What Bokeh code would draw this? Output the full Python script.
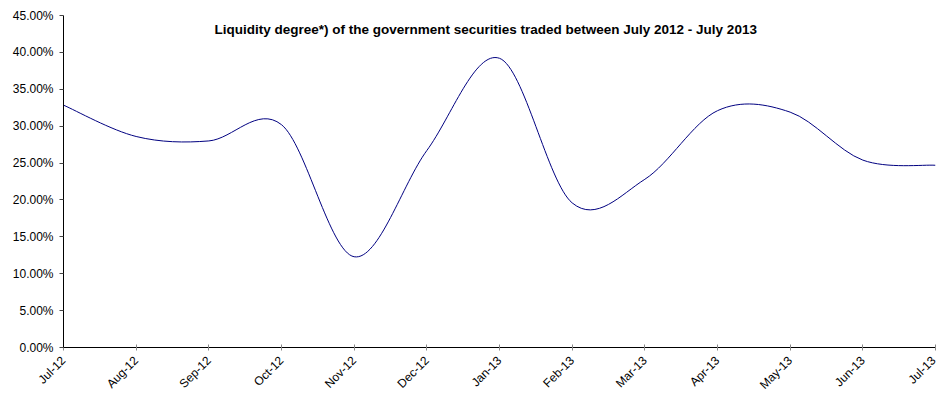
import math
from bokeh.plotting import figure
from bokeh.models import Range1d, FixedTicker, NumeralTickFormatter, Label, ColumnDataSource
from bokeh.embed import file_html
from bokeh.resources import INLINE

months = ["Jul-12", "Aug-12", "Sep-12", "Oct-12", "Nov-12", "Dec-12", "Jan-13",
          "Feb-13", "Mar-13", "Apr-13", "May-13", "Jun-13", "Jul-13"]
liquidity = [0.3285, 0.286, 0.280, 0.302, 0.123, 0.267, 0.392,
             0.196, 0.228, 0.321, 0.319, 0.254, 0.247]
y_ticks = [0, 0.05, 0.10, 0.15, 0.20, 0.25, 0.30, 0.35, 0.40, 0.45]
title_text = "Liquidity degree*) of the government securities traded between July 2012 - July 2013"

FONT = "Liberation Sans"

p = figure(frame_width=872, frame_height=332, output_backend="svg", toolbar_location=None,
           x_range=Range1d(0, len(months) - 1), y_range=Range1d(0, 0.45),
           min_border_left=63, min_border_right=3, min_border_top=15, min_border_bottom=46)
p.outline_line_color = None
p.xgrid.visible = False
p.ygrid.visible = False
p.background_fill_color = "white"
p.border_fill_color = "white"

# smoothed line (Catmull-Rom style Bezier segments through data points)
xs = list(range(len(months)))
n = len(xs)
x0, y0, x1, y1, cx0, cy0, cx1, cy1 = [], [], [], [], [], [], [], []
for i in range(n - 1):
    pm = i - 1 if i > 0 else 0
    pp = i + 2 if i + 2 < n else n - 1
    x0.append(xs[i]); y0.append(liquidity[i])
    x1.append(xs[i + 1]); y1.append(liquidity[i + 1])
    cx0.append(xs[i] + (xs[i + 1] - xs[pm]) / 6.0)
    cy0.append(liquidity[i] + (liquidity[i + 1] - liquidity[pm]) / 6.0)
    cx1.append(xs[i + 1] - (xs[pp] - xs[i]) / 6.0)
    cy1.append(liquidity[i + 1] - (liquidity[pp] - liquidity[i]) / 6.0)
src = ColumnDataSource(dict(x0=x0, y0=y0, x1=x1, y1=y1, cx0=cx0, cy0=cy0, cx1=cx1, cy1=cy1))
p.bezier(x0="x0", y0="y0", x1="x1", y1="y1", cx0="cx0", cy0="cy0", cx1="cx1", cy1="cy1",
         source=src, line_color="#000080", line_width=1.0)

# x axis
xa = p.xaxis[0]
xa.ticker = FixedTicker(ticks=xs)
xa.major_label_overrides = {i: m for i, m in enumerate(months)}
xa.major_label_orientation = math.pi / 4
xa.minor_tick_line_color = None
xa.major_tick_in = 3
xa.major_tick_out = 3
xa.major_tick_line_color = "#888888"
xa.axis_line_color = "black"
xa.major_label_text_font = FONT
xa.major_label_text_font_size = "12px"
xa.major_label_text_color = "black"
xa.major_label_standoff = 8

# y axis
ya = p.yaxis[0]
ya.ticker = FixedTicker(ticks=y_ticks)
ya.formatter = NumeralTickFormatter(format="0.00%")
ya.minor_tick_line_color = None
ya.major_tick_in = 0
ya.major_tick_out = 4
ya.major_tick_line_color = "#444444"
ya.axis_line_color = "black"
ya.major_label_text_font = FONT
ya.major_label_text_font_size = "12px"
ya.major_label_text_color = "black"
ya.major_label_standoff = 6

title = Label(x=5.81, y=0.4305, text=title_text, text_font=FONT, text_font_size="13.5px",
              text_font_style="bold", text_align="center", text_baseline="middle",
              text_color="black")
p.add_layout(title)

open("out.html", "w").write(file_html(p, INLINE))
